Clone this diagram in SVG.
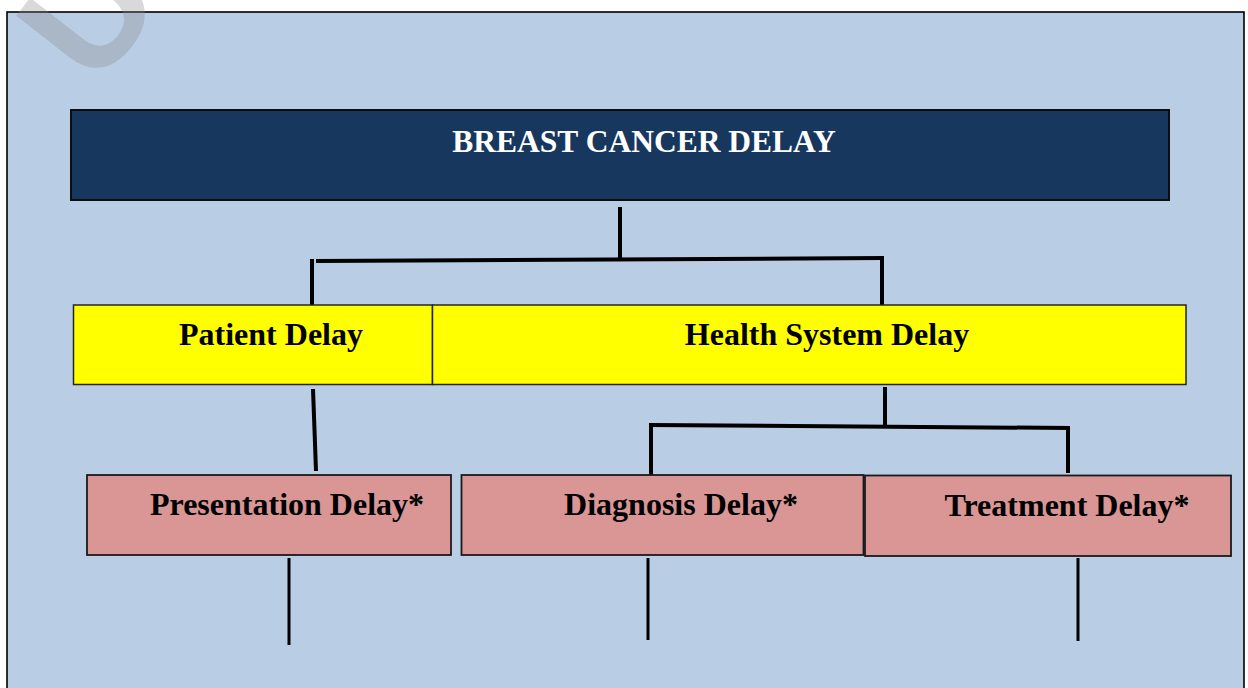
<svg xmlns="http://www.w3.org/2000/svg" width="1248" height="688" viewBox="0 0 1248 688">
  <style>
    .lbl { font-family: "Liberation Serif", "Times New Roman", serif; font-weight: bold; font-size: 32px; text-anchor: middle; }
    .title { fill: #ffffff; font-size: 31.5px; }
    .dark { fill: #000000; }
    .box-title { fill: #17375e; stroke: #0d0d0d; stroke-width: 2; }
    .box-yellow { fill: #ffff00; stroke: #262626; stroke-width: 1.5; }
    .box-pink { fill: #d99694; stroke: #1a1a1a; stroke-width: 1.8; }
    .wire { stroke: #000000; stroke-width: 4; fill: none; }
    .wire-thin { stroke: #000000; stroke-width: 3; fill: none; }
  </style>

  <!-- page and frame -->
  <rect x="0" y="0" width="1248" height="688" fill="#ffffff"/>
  <rect x="7" y="12" width="1237" height="690" fill="#b9cde5" stroke="#000000" stroke-width="1.6"/>

  <!-- connectors -->
  <g id="connectors">
    <line class="wire" x1="620" y1="207" x2="620" y2="259"/>
    <line class="wire" x1="316" y1="261" x2="884" y2="258"/>
    <line class="wire" x1="312" y1="259" x2="312" y2="305"/>
    <line class="wire" x1="882" y1="258" x2="882" y2="305"/>
    <line class="wire" x1="313" y1="389" x2="316" y2="471"/>
    <line class="wire" x1="885" y1="387" x2="885" y2="425"/>
    <line class="wire" x1="649" y1="425" x2="1070" y2="428"/>
    <line class="wire" x1="651" y1="425" x2="651" y2="481"/>
    <line class="wire" x1="1068" y1="428" x2="1068" y2="473"/>
    <line class="wire-thin" x1="289" y1="558" x2="289" y2="645"/>
    <line class="wire-thin" x1="648" y1="558" x2="648" y2="640"/>
    <line class="wire-thin" x1="1078" y1="558" x2="1078" y2="641"/>
  </g>

  <!-- root -->
  <g id="node-breast-cancer-delay">
    <rect class="box-title" x="71" y="110" width="1098" height="90"/>
    <text class="lbl title" x="644" y="152">BREAST CANCER DELAY</text>
  </g>

  <!-- second level -->
  <g id="node-patient-delay">
    <rect class="box-yellow" x="73.5" y="305" width="359" height="79.5"/>
    <text class="lbl dark" x="271" y="345">Patient Delay</text>
  </g>
  <g id="node-health-system-delay">
    <rect class="box-yellow" x="432.5" y="305" width="753.5" height="79.5"/>
    <text class="lbl dark" x="827" y="345">Health System Delay</text>
  </g>

  <!-- third level -->
  <g id="node-presentation-delay">
    <rect class="box-pink" x="87" y="475" width="364" height="80"/>
    <text class="lbl dark" x="287" y="515">Presentation Delay*</text>
  </g>
  <g id="node-diagnosis-delay">
    <rect class="box-pink" x="461.5" y="475" width="402" height="80"/>
    <text class="lbl dark" x="681" y="515">Diagnosis Delay*</text>
  </g>
  <g id="node-treatment-delay">
    <rect class="box-pink" x="865" y="475.5" width="366" height="80.5"/>
    <text class="lbl dark" x="1067" y="516">Treatment Delay*</text>
  </g>

  <!-- watermark -->
  <g id="watermark">
    <text x="96" y="90" transform="rotate(-52 96 90)" font-family="Liberation Sans, Arial, sans-serif" font-weight="bold" font-size="158" fill="#8a8a8a" fill-opacity="0.32">UN</text>
  </g>
</svg>
